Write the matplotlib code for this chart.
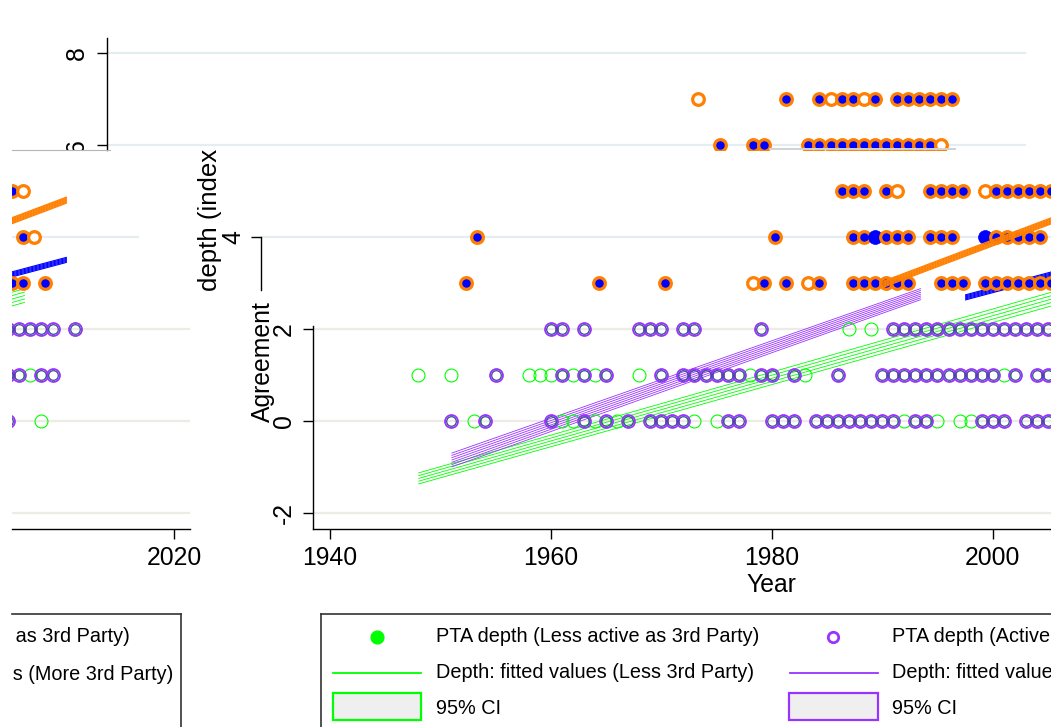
import numpy as np
import matplotlib
matplotlib.use("Agg")
import matplotlib.pyplot as plt
from matplotlib.transforms import Bbox, offset_copy
from matplotlib.patches import Rectangle

plt.rcParams['font.family'] = ['Liberation Sans', 'DejaVu Sans']

W, H = 1051, 727

# PTA depth, more / less active as 3rd party (orange ring, blue fill)
# kinds: f = blue in orange ring, o = hollow orange ring, b = plain blue dot
depth7_years = [1973, 1981, 1984, 1985, 1986, 1987, 1988, 1989, 1991, 1992, 1993, 1994, 1995, 1996]
depth7_kinds = "offoffofffffff"
depth6_years = [1975, 1978, 1979, 1983, 1984, 1985, 1986, 1987, 1988, 1989, 1990, 1991, 1992,
                1993, 1994, 1995]
depth6_kinds = "fffffffffffffffo"
depth5_years = [1986, 1987, 1988, 1990, 1991, 1994, 1995, 1996, 1997, 1999, 2000, 2001, 2002,
                2003, 2004, 2005, 2006]
depth5_kinds = "ffffoffffoffffffo"
depth4_years = [1953, 1980, 1987, 1988, 1989, 1990, 1991, 1992, 1994, 1995, 1996, 1999, 2000,
                2001, 2002, 2003, 2004, 2006, 2007]
depth4_kinds = "ffffbffffffbffffffo"
depth3_years = [1952, 1964, 1970, 1978, 1979, 1981, 1983, 1984, 1987, 1988, 1989, 1990, 1991,
                1992, 1995, 1996, 1997, 1999, 2000, 2001, 2002, 2003, 2004, 2005, 2006, 2008]
depth3_kinds = "fffoffof" + "ffffffffffffffffff"

# agreement depth 0-2: active (purple) / less active (green) as 3rd party
agr2_active = [1960, 1961, 1963, 1968, 1969, 1970, 1972, 1973, 1979, 1991, 1992, 1993, 1994,
               1995, 1996, 1997, 1998, 1999, 2000, 2001, 2002, 2003, 2004, 2005, 2006, 2007,
               2008, 2009, 2011]
agr2_less = [1987, 1989, 2011]
agr1_active = [1955, 1961, 1963, 1965, 1970, 1972, 1973, 1974, 1975, 1976, 1977, 1979, 1980,
               1982, 1986, 1990, 1991, 1992, 1993, 1994, 1995, 1996, 1997, 1998, 1999, 2000,
               2002, 2004, 2005, 2006, 2008, 2009]
agr1_less = [1948, 1951, 1958, 1959, 1960, 1962, 1964, 1968, 1978, 1983, 2001, 2007]
agr0_active = [1951, 1954, 1960, 1963, 1965, 1967, 1969, 1970, 1971, 1972, 1976, 1977, 1980,
               1981, 1982, 1984, 1985, 1986, 1987, 1988, 1989, 1990, 1991, 1993, 1994, 1999,
               2000, 2001, 2003, 2004, 2005]
agr0_less = [1953, 1961, 1962, 1964, 1966, 1973, 1975, 1992, 1995, 1997, 1998, 2008]

# fitted values with 95% CI (lower / upper)
fit_orange_years = [1990, 2010.3]
fit_orange_lo = [2.90, 4.74]
fit_orange_hi = [3.03, 4.87]
fit_blue_years = [1997.5, 2010.3]
fit_blue_lo = [2.63, 3.45]
fit_blue_hi = [2.74, 3.56]
fit_purple_years = [1951, 1993.5]
fit_purple_lo = [-1.00, 2.64]
fit_purple_hi = [-0.70, 2.88]
fit_green_years = [1948, 2006.5]
fit_green_lo = [-1.37, 2.58]
fit_green_hi = [-1.13, 2.88]

ORANGE = '#ff7f00'
BLUE = '#0000ff'
PURPLE = '#9933ff'
GREEN = '#00ff00'
GRID_WARM = '#ecece4'
GRID_COOL = '#e4edf0'
FS = 17.8
XPX = 11.045   # pixels per year
YPX = 46.0     # pixels per depth unit

fig = plt.figure(figsize=(W / 100, H / 100), dpi=100)


def px_axes(x0, y0, x1, y1, x_ref=330, year_ref=1940):
    ax = fig.add_axes([x0 / W, 1 - y1 / H, (x1 - x0) / W, (y1 - y0) / H])
    ax.set_xlim(year_ref + (x0 - x_ref) / XPX, year_ref + (x1 - x_ref) / XPX)
    ax.set_ylim((421 - y1) / YPX, (421 - y0) / YPX)
    ax.set_facecolor('none')
    for s in ax.spines.values():
        s.set_visible(False)
        s.set_linewidth(1.0)
    ax.tick_params(left=False, bottom=False, labelleft=False, labelbottom=False,
                   length=7.2, width=1.0, labelsize=FS)
    return ax


def draw_rings(ax, years, kinds, level):
    tr = offset_copy(ax.transData, fig=fig, x=3.5, y=0, units='dots')
    for yr, k in zip(years, kinds):
        if k == 'b':
            ax.plot(yr, level, 'o', ms=10.0, mfc=BLUE, mec=BLUE, mew=0.5,
                    transform=tr, zorder=4)
        else:
            ax.plot(yr, level, 'o', ms=8.4, mfc=BLUE if k == 'f' else 'white',
                    mec=ORANGE, mew=2.3, transform=tr, zorder=4)


def draw_circles(ax, active, less, level):
    ax.plot(less, [level] * len(less), 'o', ls='none', ms=9.3, mfc='none',
            mec=GREEN, mew=0.8, zorder=3)
    ax.plot(active, [level] * len(active), 'o', ls='none', ms=9.3, mfc='none',
            mec=PURPLE, mew=1.3, zorder=3)
    ax.plot(active, [level] * len(active), 'o', ls='none', ms=6.9, mfc='none',
            mec='#3a4f8f', mew=0.9, zorder=3)


def draw_band(ax, years, lo, hi, color, n, lw, z):
    lo = np.array(lo)
    hi = np.array(hi)
    for f in np.linspace(0, 1, n):
        ax.plot(years, lo + f * (hi - lo), color=color, lw=lw, zorder=z,
                solid_capstyle='butt')


def draw_all(ax):
    draw_circles(ax, agr2_active, agr2_less, 2)
    draw_circles(ax, agr1_active, agr1_less, 1)
    draw_circles(ax, agr0_active, agr0_less, 0)
    draw_band(ax, fit_green_years, fit_green_lo, fit_green_hi, GREEN, 5, 0.6, 2)
    draw_band(ax, fit_purple_years, fit_purple_lo, fit_purple_hi, PURPLE, 7, 0.6, 2)
    draw_band(ax, fit_blue_years, fit_blue_lo, fit_blue_hi, BLUE, 6, 0.8, 3)
    draw_rings(ax, depth5_years, depth5_kinds, 5)
    draw_rings(ax, depth4_years, depth4_kinds, 4)
    draw_rings(ax, depth3_years, depth3_kinds, 3)
    draw_band(ax, fit_orange_years, fit_orange_lo, fit_orange_hi, ORANGE, 7, 0.9, 5)


# top strip (depth 6-8)
ax_top = px_axes(107, 38, 1051, 150)
ax_top.spines['left'].set_visible(True)
ax_top.set_yticks([6, 8], ['', '8'], rotation=90, va='center')
ax_top.tick_params(axis='y', left=True, labelleft=True, pad=6)
for v in [6, 8]:
    ax_top.axhline(v, xmax=(1025 - 107) / 944, color=GRID_COOL, lw=1.6, zorder=1)
draw_rings(ax_top, depth7_years, depth7_kinds, 7)
draw_rings(ax_top, depth6_years, depth6_kinds, 6)

# middle piece with the "4" tick
ax_mid = px_axes(261, 150, 1051, 529)
ax_mid.spines['left'].set_visible(True)
ax_mid.spines['left'].set_bounds(2.85, 4.0)
ax_mid.set_yticks([4], ['4'], rotation=90, va='center')
ax_mid.tick_params(axis='y', left=True, labelleft=True, pad=4)
ax_mid.axhline(4, color=GRID_COOL, lw=1.6, zorder=1)

# main panel
ax_main = px_axes(313, 150, 1051, 529)
ax_main.spines['left'].set_visible(True)
ax_main.spines['left'].set_bounds((421 - 529) / YPX, 2.07)
ax_main.spines['bottom'].set_visible(True)
ax_main.set_xticks([1940, 1960, 1980, 2000])
ax_main.set_yticks([-2, 0, 2], ['-2', '0', '2'], rotation=90, va='center')
ax_main.tick_params(axis='x', bottom=True, labelbottom=True, pad=5)
ax_main.tick_params(axis='y', left=True, labelleft=True, pad=5)
for v in [-2, 0, 2]:
    ax_main.axhline(v, color=GRID_WARM, lw=1.6, zorder=1)
ax_main.set_ylabel('Agreement', fontsize=FS, va='center')
ax_main.yaxis.set_label_coords((263 - 313) / 738, 1 - (362 - 150) / 379)
ax_main.set_xlabel('Year', fontsize=FS, va='center')
ax_main.xaxis.set_label_coords((771 - 313) / 738, -(585 - 529) / 379)
draw_all(ax_main)

# left panel (continuation past 2005)
ax_left = px_axes(12, 150, 190, 529, x_ref=174, year_ref=2020)
ax_left.spines['bottom'].set_visible(True)
ax_left.set_xticks([2020])
ax_left.tick_params(axis='x', bottom=True, labelbottom=True, pad=5)
ax_left.axhline(4, xmax=(138 - 12) / 178, color=GRID_COOL, lw=1.6, zorder=1)
for v in [-2, 0, 2]:
    ax_left.axhline(v, color=GRID_WARM, lw=1.6, zorder=1)
draw_all(ax_left)

# clipped labels
t6 = fig.text(77 / W, 1 - 146 / H, '6', rotation=90, ha='center', va='center', fontsize=FS)
t6.set_clip_box(Bbox.from_extents(0, H - 150, W, H))
tdep = fig.text(210 / W, 1 - 291 / H, 'depth (index)', rotation=90, ha='center',
                va='bottom', fontsize=18.6)
tdep.set_clip_box(Bbox.from_extents(0, 0, W, H - 150))

# overlay in pixel coords: legend boxes and seams
ax_ov = fig.add_axes([0, 0, 1, 1])
ax_ov.set_xlim(0, W)
ax_ov.set_ylim(H, 0)
ax_ov.axis('off')
ax_ov.plot([12, 110], [150, 150], color='#b5b5b5', lw=0.8)
ax_ov.plot([770, 955], [149, 149], color='#d2d2d2', lw=1.4)

ax_ov.plot([12, 181], [614, 614], color='#333333', lw=1.2)
ax_ov.plot([181, 181], [614, 727], color='#333333', lw=1.2)
ax_ov.plot([321, 1051], [614, 614], color='#333333', lw=1.2)
ax_ov.plot([321, 321], [614, 727], color='#333333', lw=1.2)

LFS = 14.3
left_clip = Bbox.from_extents(13, 0, W, H)
for txt, xr, yc in [('PTA depth (Active as 3rd Party)', 130, 637),
                    ('Depth: fitted values (More 3rd Party)', 173, 674)]:
    t = ax_ov.text(xr, yc, txt, ha='right', va='center', fontsize=LFS)
    t.set_clip_on(True)
    t.set_clip_path(None)
    t.set_clip_box(left_clip)

ax_ov.plot(377, 637, 'o', ms=9.2, mfc=GREEN, mec=GREEN)
ax_ov.plot([333, 421], [673, 673], color=GREEN, lw=1.3)
ax_ov.add_patch(Rectangle((333, 693), 88, 27, fc='#efefef', ec=GREEN, lw=1.6))
ax_ov.plot(833, 637, 'o', ms=7.5, mfc='white', mec=PURPLE, mew=2.0)
ax_ov.plot([790, 878], [673, 673], color=PURPLE, lw=1.3)
ax_ov.add_patch(Rectangle((789, 693), 89, 27, fc='#efefef', ec=PURPLE, lw=1.6))

for x, txts in [(436, ['PTA depth (Less active as 3rd Party)',
                       'Depth: fitted values (Less 3rd Party)', '95% CI']),
                (892, ['PTA depth (Active as 3rd Party)',
                       'Depth: fitted values (More 3rd Party)', '95% CI'])]:
    for txt, yc in zip(txts, [637, 673, 709]):
        ax_ov.text(x, yc, txt, ha='left', va='center', fontsize=LFS)

fig.savefig('out.png', dpi=100)
